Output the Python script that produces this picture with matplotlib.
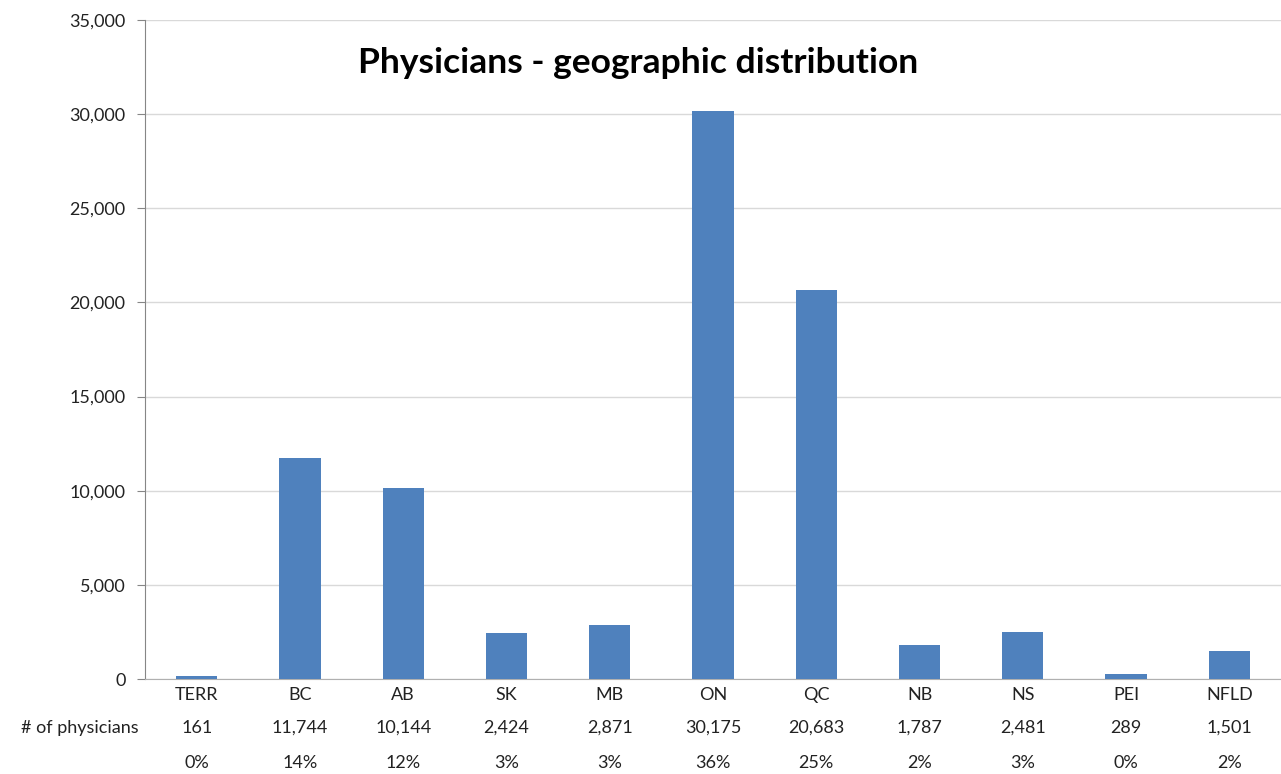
import matplotlib.pyplot as plt
from matplotlib.ticker import FuncFormatter, MultipleLocator
import numpy as np

plt.rcParams['font.family'] = ['Lato', 'DejaVu Sans']

provinces = ['TERR', 'BC', 'AB', 'SK', 'MB', 'ON', 'QC', 'NB', 'NS', 'PEI', 'NFLD']
physicians = [161, 11744, 10144, 2424, 2871, 30175, 20683, 1787, 2481, 289, 1501]
share = ['0%', '14%', '12%', '3%', '3%', '36%', '25%', '2%', '3%', '0%', '2%']

fig = plt.figure(figsize=(12.81, 7.74), dpi=100)
ax = fig.add_axes([0.1132, 0.1227, 0.8868, 0.8514])

x = np.arange(len(provinces))
ax.bar(x, physicians, width=0.4, color='#4F81BD', zorder=3)

ax.set_xlim(-0.5, len(provinces) - 0.5)
ax.set_ylim(0, 35000)
ax.yaxis.set_major_locator(MultipleLocator(5000))
ax.yaxis.set_major_formatter(FuncFormatter(lambda v, p: f'{int(v):,}'))
ax.grid(axis='y', color='#d9d9d9', linewidth=1, zorder=0)

for s in ['top', 'right']:
    ax.spines[s].set_visible(False)
ax.spines['left'].set_color('#868686')
ax.spines['bottom'].set_color('#b0b0b0')
ax.tick_params(axis='y', length=6, color='#868686', labelsize=13, labelcolor='#222222', pad=8)
ax.tick_params(axis='x', length=0, labelsize=13, labelcolor='#222222', pad=6)
ax.set_xticks(x)
ax.set_xticklabels(provinces)

# data table rows under the category labels
trans = ax.get_xaxis_transform()
for xi, n, pct in zip(x, physicians, share):
    ax.text(xi, -0.074, f'{n:,}', transform=trans, ha='center', va='center',
            fontsize=13, color='#222222')
    ax.text(xi, -0.127, pct, transform=trans, ha='center', va='center',
            fontsize=13, color='#222222')
ax.text(-0.006, -0.074, '# of physicians', transform=ax.transAxes, ha='right',
        va='center', fontsize=13, color='#222222')

fig.text(0.498, 0.918, 'Physicians - geographic distribution', ha='center', va='center',
         fontsize=25.5, fontweight='bold')

fig.savefig('out.png', dpi=100)
